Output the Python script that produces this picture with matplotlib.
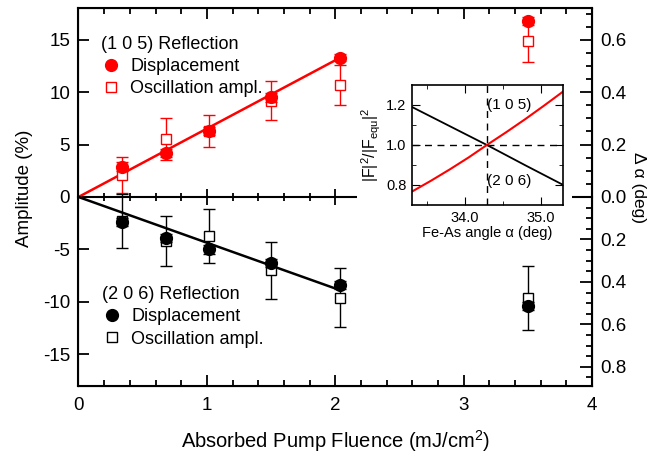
import numpy as np
import matplotlib
matplotlib.use("Agg")
import matplotlib.pyplot as plt
from matplotlib.lines import Line2D
from matplotlib.patches import Rectangle

plt.rcParams['font.family'] = ['Liberation Sans', 'DejaVu Sans']
plt.rcParams['mathtext.fontset'] = 'custom'
plt.rcParams['mathtext.rm'] = 'Liberation Sans'
plt.rcParams['mathtext.it'] = 'Liberation Sans'
plt.rcParams['mathtext.default'] = 'rm'
plt.rcParams['axes.unicode_minus'] = False

# fluence points (mJ/cm^2)
fluence = [0.34, 0.68, 1.02, 1.50, 2.04, 3.50]

# (1 0 5) reflection
disp_105 = [2.9, 4.2, 6.3, 9.5, 13.3, 16.8]
disp_105_err = [0.4, 0.4, 0.4, 0.4, 0.35, 0.35]
osc_105 = [2.1, 5.5, 6.3, 9.2, 10.65, 14.9]
osc_105_err = [1.7, 2.0, 1.5, 1.9, 1.9, 2.0]

# (2 0 6) reflection
disp_206 = [-2.4, -3.9, -5.0, -6.3, -8.4, -10.4]
disp_206_err = [0.4, 0.4, 0.4, 0.4, 0.4, 0.4]
osc_206 = [-2.3, -4.2, -3.7, -7.0, -9.6, -9.6]
osc_206_err = [2.6, 2.4, 2.55, 2.75, 2.8, 3.05]

# linear fits
fit_x = [0.0, 2.04]
fit_105 = [0.0, 13.3]
fit_206 = [0.0, -8.9]

# right axis: degrees per % amplitude differ for the two halves
pct_per_deg_105 = 25.0
pct_per_deg_206 = 20.25
deg_up = [0.0, 0.2, 0.4, 0.6]
deg_down = [0.2, 0.4, 0.6, 0.8]

# inset: structure factor ratio vs Fe-As angle
angle = [33.30, 33.55, 33.80, 34.05, 34.29, 34.55, 34.80, 35.05, 35.30]
ratio_105 = [0.767, 0.821, 0.878, 0.938, 1.0, 1.065, 1.130, 1.198, 1.268]
ratio_206 = [1.19, 1.142, 1.094, 1.046, 1.0, 0.948, 0.898, 0.849, 0.80]
angle_equ = 34.29

RED = '#ff0000'

fig = plt.figure(figsize=(6.69, 4.53), dpi=100)
ax = fig.add_axes([0.1173, 0.1486, 0.7676, 0.8331])

ax.plot(fit_x, fit_105, color=RED, lw=1.8, zorder=3)
ax.plot(fit_x, fit_206, color='black', lw=1.8, zorder=3)

ax.errorbar(fluence, osc_105, yerr=osc_105_err, fmt='s', ms=7.5, mfc='white', mec=RED,
            mew=1.0, ecolor=RED, elinewidth=1.0, capsize=4, capthick=1.0, zorder=4)
ax.errorbar(fluence, disp_105, yerr=disp_105_err, fmt='o', ms=8.5, color=RED,
            elinewidth=1.0, capsize=4, zorder=5)
ax.errorbar(fluence, osc_206, yerr=osc_206_err, fmt='s', ms=7.5, mfc='white', mec='black',
            mew=1.0, ecolor='black', elinewidth=1.0, capsize=4, capthick=1.0, zorder=4)
ax.errorbar(fluence, disp_206, yerr=disp_206_err, fmt='o', ms=8.5, color='black',
            elinewidth=1.0, capsize=4, zorder=5)

ax.set_xlim(0, 4)
ax.set_ylim(-18, 18)
ax.set_xticks([0, 1, 2, 3, 4])
ax.set_xticks(np.arange(0, 4.01, 0.2), minor=True)
ax.set_yticks([-15, -10, -5, 0, 5, 10, 15])
ax.tick_params(axis='x', which='both', direction='in', top=True, labelsize=13.5, pad=8)
ax.tick_params(axis='x', which='major', length=8, width=1.3)
ax.tick_params(axis='x', which='minor', length=4, width=1.3)
ax.tick_params(axis='y', which='major', direction='in', right=False, length=8, width=1.3,
               labelsize=13.5, pad=6)
for s in ax.spines.values():
    s.set_linewidth(1.5)

ax.set_xlabel('Absorbed Pump Fluence (mJ/cm$^2$)', fontsize=14.5, labelpad=10)
ax.set_ylabel('Amplitude (%)', fontsize=13.5)
ax.yaxis.set_label_coords(-0.0885, 0.524)

# zero line with ticks
zero = ax.secondary_xaxis(0.5)
zero.set_xticks([0, 1, 2, 3, 4])
zero.set_xticks(np.arange(0, 4.01, 0.2), minor=True)
zero.tick_params(which='both', direction='inout', labeltop=False, labelbottom=False, width=1.3)
zero.tick_params(which='major', length=11)
zero.tick_params(which='minor', length=6)
for s in zero.spines.values():
    s.set_linewidth(1.5)

# right axis in degrees
tw = ax.twinx()
tw.set_ylim(ax.get_ylim())
up_pos = [d * pct_per_deg_105 for d in deg_up]
down_pos = [-d * pct_per_deg_206 for d in deg_down]
tw.set_yticks(up_pos + down_pos)
tw.set_yticklabels(['%.1f' % d for d in deg_up] + ['%.1f' % d for d in deg_down])
minor_up = [d * pct_per_deg_105 for d in np.arange(0, 0.71, 0.05)]
minor_down = [-d * pct_per_deg_206 for d in np.arange(0.05, 0.86, 0.05)]
tw.set_yticks(minor_up + minor_down, minor=True)
tw.tick_params(which='both', direction='in', labelsize=13.5, pad=6, width=1.3)
tw.tick_params(which='major', length=8.5)
tw.tick_params(which='minor', length=4.3)
tw.set_ylabel('Δ α (deg)', fontsize=12.5, rotation=270, va='bottom')
tw.yaxis.set_label_coords(1.076, 0.524)

# legends
h105 = [Line2D([], [], ls='none', marker='o', ms=8.5, color=RED),
        Line2D([], [], ls='none', marker='s', ms=7.5, mfc='white', mec=RED)]
h206 = [Line2D([], [], ls='none', marker='o', ms=8.5, color='black'),
        Line2D([], [], ls='none', marker='s', ms=7.5, mfc='white', mec='black')]
labels = ['Displacement', 'Oscillation ampl.']
leg_kw = dict(loc='upper left', frameon=False, fontsize=13, title_fontsize=13,
              alignment='left', borderpad=0, borderaxespad=0, handlelength=1.2,
              handletextpad=0.45, labelspacing=0.28)
leg1 = ax.legend(h105, labels, title='(1 0 5) Reflection',
                 bbox_to_anchor=(0.043, 0.927), **leg_kw)
ax.add_artist(leg1)
ax.legend(h206, labels, title='(2 0 6) Reflection',
          bbox_to_anchor=(0.045, 0.263), **leg_kw)

# inset
ins = fig.add_axes([0.6158, 0.5475, 0.2262, 0.2649])
ins.add_patch(Rectangle((0.5336, 0.478), 0.321, 0.35, transform=fig.transFigure,
                        facecolor='white', edgecolor='none', clip_on=False, zorder=-1))
ins.plot(angle, ratio_206, color='black', lw=1.3)
ins.plot(angle, ratio_105, color=RED, lw=1.5)
ins.axvline(angle_equ, color='black', lw=1.0, ls=(0, (5, 4)))
ins.axhline(1.0, color='black', lw=1.0, ls=(0, (5, 4)))
ins.text(angle_equ, 1.2, '(1 0 5)', fontsize=11, ha='left', va='center')
ins.text(angle_equ, 0.82, '(2 0 6)', fontsize=11, ha='left', va='center')
ins.set_xlim(33.3, 35.3)
ins.set_ylim(0.7, 1.3)
ins.set_xticks([34.0, 35.0])
ins.set_xticklabels(['34.0', '35.0'])
ins.set_xticks([33.5, 34.5], minor=True)
ins.set_yticks([0.8, 1.0, 1.2])
ins.set_yticklabels(['0.8', '1.0', '1.2'])
ins.set_yticks([0.9, 1.1], minor=True)
ins.tick_params(which='both', direction='in', top=True, right=True, labelsize=10.5, pad=4)
ins.tick_params(which='major', length=6)
ins.tick_params(which='minor', length=3)
for s in ins.spines.values():
    s.set_linewidth(1.2)
ins.set_xlabel('Fe-As angle α (deg)', fontsize=10.5, labelpad=1)
ins.set_ylabel('$|F|^2/|F_{equ}|^2$', fontsize=11.5, labelpad=2)

fig.savefig('out.png', dpi=100)
